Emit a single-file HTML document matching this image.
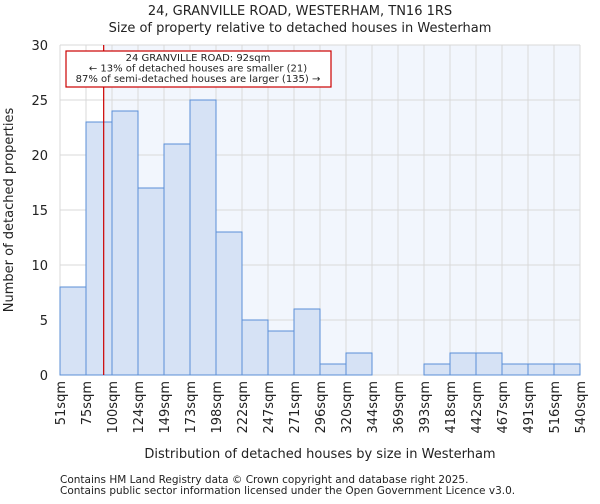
<!DOCTYPE html>
<html><head><meta charset="utf-8"><style>
body{margin:0;background:#fff;font-family:"DejaVu Sans","Liberation Sans",sans-serif}
svg text{font-family:"DejaVu Sans","Liberation Sans",sans-serif;fill:#222}
</style></head><body>
<svg id="chart" width="600" height="500" viewBox="0 0 600 500" xmlns="http://www.w3.org/2000/svg">
<text x="300" y="15" font-size="13" text-anchor="middle">24, GRANVILLE ROAD, WESTERHAM, TN16 1RS</text>
<text x="300" y="32" font-size="13" text-anchor="middle">Size of property relative to detached houses in Westerham</text>
<g id="plot"></g>
<text x="320" y="458" font-size="13" text-anchor="middle">Distribution of detached houses by size in Westerham</text>
<text transform="translate(13,210) rotate(-90)" font-size="13" text-anchor="middle">Number of detached properties</text>
<text x="60" y="483" font-size="10.5">Contains HM Land Registry data © Crown copyright and database right 2025.</text>
<text x="60" y="494" font-size="10.5">Contains public sector information licensed under the Open Government Licence v3.0.</text>
</svg>
<script>
const categories=["51sqm","75sqm","100sqm","124sqm","149sqm","173sqm","198sqm","222sqm","247sqm","271sqm","296sqm","320sqm","344sqm","369sqm","393sqm","418sqm","442sqm","467sqm","491sqm","516sqm","540sqm"];
const counts=[8,23,24,17,21,25,13,5,4,6,1,2,0,0,1,2,2,1,1,1];
const yTicks=[0,5,10,15,20,25,30];
const binEdges=[51,75,100,124,149,173,198,222,247,271,296,320,344,369,393,418,442,467,491,516,540];
const propertySize=92;
const L=60,R=580,T=45,B=375,yMax=30;
const NS="http://www.w3.org/2000/svg";
const g=document.getElementById('plot');
const bw=(R-L)/counts.length;
const x=i=>L+i*bw;
const y=v=>B-(v/yMax)*(B-T);
function mk(t,a){const e=document.createElementNS(NS,t);for(const k in a)e.setAttribute(k,a[k]);g.appendChild(e);return e;}
let bi=0;while(bi<binEdges.length-2&&propertySize>binEdges[bi+1])bi++;
const mx=x(bi)+(propertySize-binEdges[bi])/(binEdges[bi+1]-binEdges[bi])*bw;
let e=mk('rect',{x:L,y:T,width:R-L,height:B-T,fill:'#fff'});


e=mk('rect',{x:mx,y:T,width:R-mx,height:B-T,fill:'#f2f6fd'});


yTicks.forEach(v=>{
 const l=mk('line',{x1:L,x2:R,y1:y(v),y2:y(v),stroke:'#d9d9d9','stroke-width':1});
 
 
 const t=mk('text',{x:L-12,y:y(v)+5,'font-size':13,'text-anchor':'end'});t.textContent=v;
 
 
});
categories.forEach((c,i)=>{
 const l=mk('line',{x1:x(i),x2:x(i),y1:T,y2:B,stroke:'#d9d9d9','stroke-width':1});
 
 
 const t=mk('text',{transform:`translate(${x(i)+5},${B+6}) rotate(-90)`,'font-size':13,'text-anchor':'end'});t.textContent=c;
 
 
});
counts.forEach((v,i)=>{
 const r=mk('rect',{x:x(i),y:y(v),width:bw,height:B-y(v),fill:'#d6e2f5',stroke:'#5b8fd6','stroke-width':1});
 
 
});
e=mk('line',{x1:mx,x2:mx,y1:T,y2:B,stroke:'#cc0000','stroke-width':1.2});


e=mk('rect',{x:66,y:51,width:265,height:36,fill:'#fff',stroke:'#cc0000','stroke-width':1.2});


["24 GRANVILLE ROAD: 92sqm","← 13% of detached houses are smaller (21)","87% of semi-detached houses are larger (135) →"].forEach((s,i)=>{
 const t=mk('text',{x:198,y:61+i*10.5,'font-size':10,'text-anchor':'middle'});t.textContent=s;
 
 
});
</script>
</body></html>
